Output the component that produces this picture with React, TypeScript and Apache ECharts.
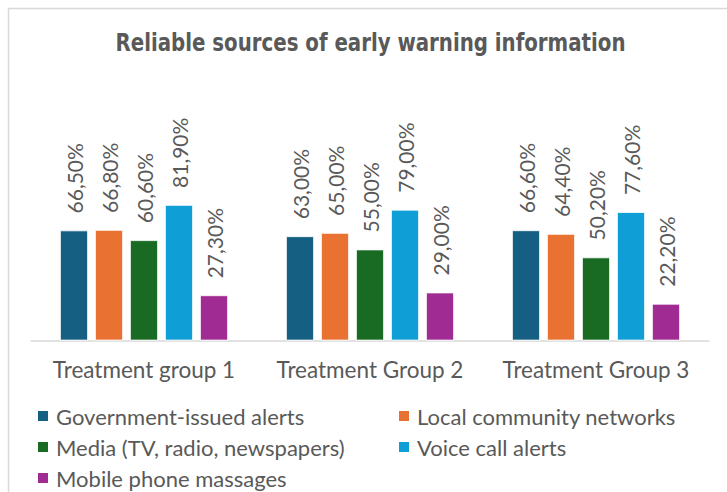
import React, { useEffect, useRef } from "react";
import * as echarts from "echarts";

const categories = ["Treatment group 1", "Treatment Group 2", "Treatment Group 3"];
const seriesNames = [
  "Government-issued alerts",
  "Local community networks",
  "Media (TV, radio, newspapers)",
  "Voice call alerts",
  "Mobile phone massages",
];
const governmentAlerts = [66.5, 63.0, 66.6];
const localNetworks = [66.8, 65.0, 64.4];
const mediaValues = [60.6, 55.0, 50.2];
const voiceCallAlerts = [81.9, 79.0, 77.6];
const mobileMessages = [27.3, 29.0, 22.2];
const seriesValues = [governmentAlerts, localNetworks, mediaValues, voiceCallAlerts, mobileMessages];
const seriesColors = ["#156082", "#E97132", "#196B24", "#0F9ED5", "#A02B93"];

const TEXT = "#595959";
const BODY_FONT = "Lato, 'Open Sans', sans-serif";
const TITLE = "Reliable sources of early warning information";

export default function App() {
  const ref = useRef<HTMLDivElement>(null);
  useEffect(() => {
    if (!ref.current) return;
    const chart = echarts.init(ref.current, undefined, { renderer: "svg" });
    const legendCommon = {
      orient: "vertical",
      icon: "rect",
      itemWidth: 12,
      itemHeight: 12,
      itemGap: 7,
      padding: 0,
      height: 100,
      selectedMode: false,
      textStyle: { color: TEXT, fontSize: 22, fontFamily: BODY_FONT, lineHeight: 24, padding: [0, 0, 0, 2] },
    };
    chart.setOption({
      animation: false,
      backgroundColor: "#ffffff",
      graphic: [
        {
          type: "rect",
          shape: { x: 8.5, y: 8.5, width: 800, height: 600 },
          style: { fill: "none", stroke: "#d9d9d9", lineWidth: 1.5 },
          silent: true,
        },
        {
          type: "text",
          x: 370.5,
          y: 43,
          scaleX: 0.88,
          silent: true,
          style: {
            text: TITLE,
            fill: TEXT,
            textAlign: "center",
            textVerticalAlign: "middle",
            fontSize: 25,
            fontWeight: "bold",
            fontFamily: "'DejaVu Sans Condensed', 'Liberation Sans Narrow', sans-serif",
          },
        },
      ],
      legend: [
        { ...legendCommon, left: 36, top: 404, data: [seriesNames[0], seriesNames[2], seriesNames[4]] },
        { ...legendCommon, left: 397, top: 404, data: [seriesNames[1], seriesNames[3]] },
      ],
      grid: { left: 31, right: 18, top: 175, bottom: 151.5, containLabel: false },
      xAxis: {
        type: "category",
        data: categories,
        axisLine: { lineStyle: { color: "#d9d9d9", width: 1.5 } },
        axisTick: { show: false },
        axisLabel: {
          color: TEXT,
          fontSize: 22.5,
          fontFamily: BODY_FONT,
          margin: 17,
          interval: 0,
          hideOverlap: false,
        },
      },
      yAxis: {
        type: "value",
        min: 0,
        max: 100,
        show: false,
        splitLine: { show: false },
      },
      series: seriesNames.map((name, i) => ({
        name,
        type: "bar",
        data: seriesValues[i],
        barWidth: 28,
        barGap: "25%",
        itemStyle: { color: seriesColors[i], borderColor: "#ffffff", borderWidth: 0.8 },
        label: {
          show: true,
          position: "top",
          rotate: 90,
          align: "left",
          verticalAlign: "middle",
          distance: 17,
          color: TEXT,
          fontSize: 21,
          fontFamily: BODY_FONT,
          formatter: (p: any) => p.value.toFixed(2).replace(".", ",") + "%",
        },
      })),
    });
    return () => chart.dispose();
  }, []);
  return (
    <div
      ref={ref}
      style={{ position: "fixed", left: 0, top: 0, width: 727, height: 492, background: "#fff" }}
    />
  );
}
